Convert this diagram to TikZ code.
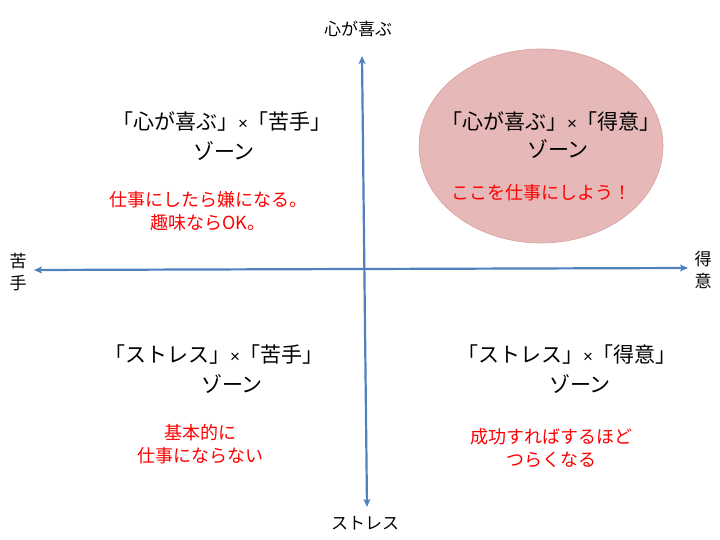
\documentclass[tikz,border=0pt]{standalone}
\usepackage{fontspec}
\setmainfont{Noto Sans CJK JP}
\newfontfamily\latinfont{Liberation Sans}
\usetikzlibrary{arrows.meta}
\definecolor{axisblue}{RGB}{79,129,189}
\definecolor{zonepink}{RGB}{230,184,183}
\definecolor{zoneedge}{RGB}{215,160,160}
\newcommand{\kakeru}{{\latinfont\fontsize{17}{20}\selectfont ×}}
\begin{document}
\begin{tikzpicture}[x=1pt,y=-1pt,
    axis/.style={draw=axisblue,line width=2.2pt,<->,>={Stealth[length=8pt,width=7pt,inset=2pt]}},
    axislabel/.style={font=\fontsize{17}{22}\selectfont,align=center,inner sep=0pt},
    zonetitle/.style={font=\fontsize{21}{28}\selectfont,inner sep=0pt},
    note/.style={text=red,font=\fontsize{18}{23}\selectfont,align=center,inner sep=0pt}]
    \useasboundingbox (0,0) rectangle (720,540);
    % axes
    \coordinate (top) at (362,56);
    \coordinate (bottom) at (367,507);
    \coordinate (left) at (34,270);
    \coordinate (right) at (688,268);
    \node[axislabel] (up) at (358,29) {心が喜ぶ};
    \node[axislabel] (down) at (365,523) {ストレス};
    \node[axislabel] (weak) at (18,272) {苦\\手};
    \node[axislabel] (strong) at (703,270) {得\\意};
    % zone
    \draw[fill=zonepink,draw=zoneedge,line width=0.6pt] (541,146) ellipse [x radius=122, y radius=97];
    \draw[axis] (top) -- (bottom);
    \draw[axis] (left) -- (right);
    % texts
    \node[zonetitle] (tl) at (222,122) {「心が喜ぶ」\kakeru「苦手」};
    \node[zonetitle] (tlz) at (224,151) {ゾーン};
    \node[note] (tln) at (208,211) {仕事にしたら嫌になる。\\趣味ならOK。};
    \node[zonetitle] (tr) at (551,122) {「心が喜ぶ」\kakeru「得意」};
    \node[zonetitle] (trz) at (558,149) {ゾーン};
    \node[note] (trn) at (541,193) {ここを仕事にしよう！};
    \node[zonetitle] (bl) at (214,355) {「ストレス」\kakeru「苦手」};
    \node[zonetitle] (blz) at (232,384) {ゾーン};
    \node[note] (bln) at (200,444) {基本的に\\仕事にならない};
    \node[zonetitle] (br) at (567,355) {「ストレス」\kakeru「得意」};
    \node[zonetitle] (brz) at (580,384) {ゾーン};
    \node[note] (brn) at (551,448) {成功すればするほど\\つらくなる};
\end{tikzpicture}
\end{document}
